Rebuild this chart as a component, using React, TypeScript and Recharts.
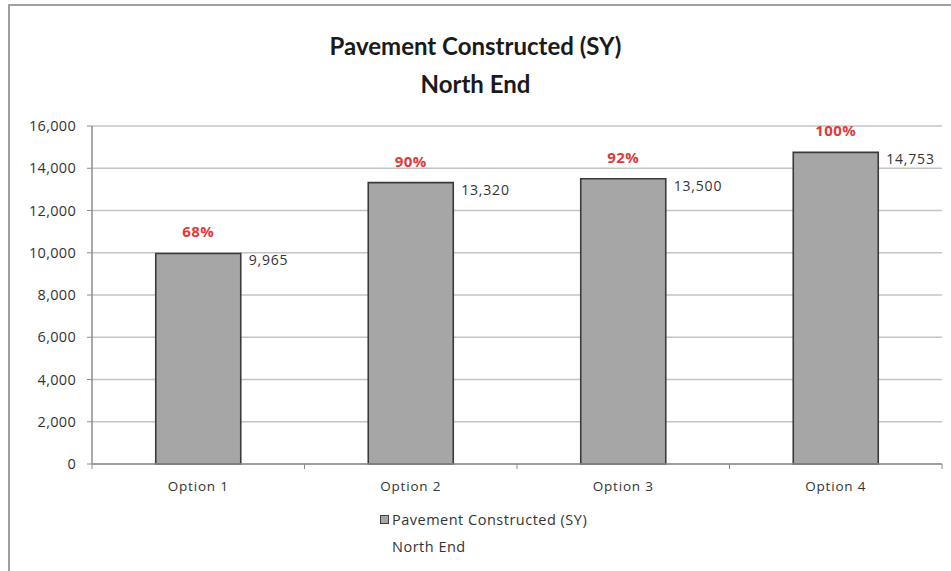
import { Bar, BarChart, CartesianGrid, LabelList, Legend, XAxis, YAxis } from "recharts";

const categories = ["Option 1", "Option 2", "Option 3", "Option 4"];
const pavementValues = [9965, 13320, 13500, 14753];
const percentLabels = ["68%", "90%", "92%", "100%"];
const yTicks = [0, 2000, 4000, 6000, 8000, 10000, 12000, 14000, 16000];

const FONT = "'Open Sans', sans-serif";
const TITLE_FONT = "Lato, sans-serif";
const CHART_W = 951;
const CHART_H = 571;
// legend box (2 lines, 54px) is taken off the bottom by recharts, so bottom margin is small
const MARGIN = { top: 126, right: 9, left: 20, bottom: 23 };
const Y_WIDTH = 72;
const PLOT_W = CHART_W - MARGIN.left - MARGIN.right - Y_WIDTH;
const STEP = PLOT_W / categories.length;

const data = categories.map((name, i) => ({
  name,
  value: pavementValues[i],
  pct: percentLabels[i],
}));

function CategoryTick(props: any) {
  const { x, y, payload, index } = props;
  const left = x - STEP / 2;
  return (
    <g>
      <line x1={left} x2={left} y1={y - 8} y2={y - 3} stroke="#8c8c8c" />
      {index === categories.length - 1 ? (
        <line x1={left + STEP} x2={left + STEP} y1={y - 8} y2={y - 3} stroke="#8c8c8c" />
      ) : null}
      <text
        x={x}
        y={y + 19}
        textAnchor="middle"
        fill="#333"
        fontSize={13.5}
        letterSpacing={0.8}
        fontFamily={FONT}
      >
        {payload.value}
      </text>
    </g>
  );
}

function ValueLabel(props: any) {
  const { x, y, width, value } = props;
  return (
    <text x={x + width + 8} y={y + 12} fill="#333" fontSize={14} letterSpacing={0.8} fontFamily={FONT}>
      {Number(value).toLocaleString("en-US")}
    </text>
  );
}

function PctLabel(props: any) {
  const { x, y, width, value } = props;
  return (
    <text
      x={x + width / 2}
      y={y - 16}
      textAnchor="middle"
      fill="#e03a3a"
      fontSize={15}
      fontWeight={700}
      letterSpacing={0.5}
      fontFamily={FONT}
    >
      {value}
    </text>
  );
}

function LegendBox() {
  return (
    <div style={{ fontFamily: FONT, fontSize: 14.5, color: "#333", lineHeight: "27px", letterSpacing: 0.5 }}>
      <div style={{ display: "flex", alignItems: "center" }}>
        <span
          style={{
            display: "inline-block",
            width: 7,
            height: 7,
            background: "#a6a6a6",
            border: "1px solid #404040",
            marginRight: 3,
          }}
        />
        Pavement Constructed (SY)
      </div>
      <div style={{ paddingLeft: 12 }}>North End</div>
    </div>
  );
}

export default function App() {
  return (
    <div style={{ position: "absolute", left: 0, top: 0, width: CHART_W, height: CHART_H, background: "#fff" }}>
      <div
        style={{
          position: "absolute",
          left: 8,
          top: 4,
          width: CHART_W,
          height: CHART_H,
          borderLeft: "2px solid #a0a0a0",
          borderTop: "2px solid #a0a0a0",
        }}
      />
      <div
        style={{
          position: "absolute",
          left: 0,
          top: 27,
          width: CHART_W,
          textAlign: "center",
          fontFamily: TITLE_FONT,
          fontWeight: 700,
          fontSize: 24,
          lineHeight: "38px",
          color: "#1a1a1a",
        }}
      >
        <div>Pavement Constructed (SY)</div>
        <div>North End</div>
      </div>
      <BarChart width={CHART_W} height={CHART_H} data={data} margin={MARGIN} barCategoryGap="30%">
        <CartesianGrid vertical={false} stroke="#c4c4c4" strokeWidth={1.5} />
        <XAxis
          dataKey="name"
          tick={<CategoryTick />}
          tickLine={false}
          axisLine={{ stroke: "#8c8c8c", strokeWidth: 1.5 }}
          height={30}
          interval={0}
        />
        <YAxis
          domain={[0, 16000]}
          ticks={yTicks}
          width={Y_WIDTH}
          tickFormatter={(v: number) => v.toLocaleString("en-US")}
          tick={{ fill: "#333", fontSize: 14.5, fontFamily: FONT, letterSpacing: 0.3 }}
          tickLine={{ stroke: "#8c8c8c" }}
          tickSize={5}
          tickMargin={11}
          axisLine={{ stroke: "#8c8c8c", strokeWidth: 1.5 }}
        />
        <Legend
          content={<LegendBox />}
          wrapperStyle={{ position: "absolute", left: 380, top: 506, width: 280 }}
        />
        <Bar
          dataKey="value"
          name="Pavement Constructed (SY) North End"
          fill="#a6a6a6"
          stroke="#3a3a3a"
          strokeWidth={1.6}
          isAnimationActive={false}
        >
          <LabelList dataKey="value" content={<ValueLabel />} />
          <LabelList dataKey="pct" content={<PctLabel />} />
        </Bar>
      </BarChart>
    </div>
  );
}
